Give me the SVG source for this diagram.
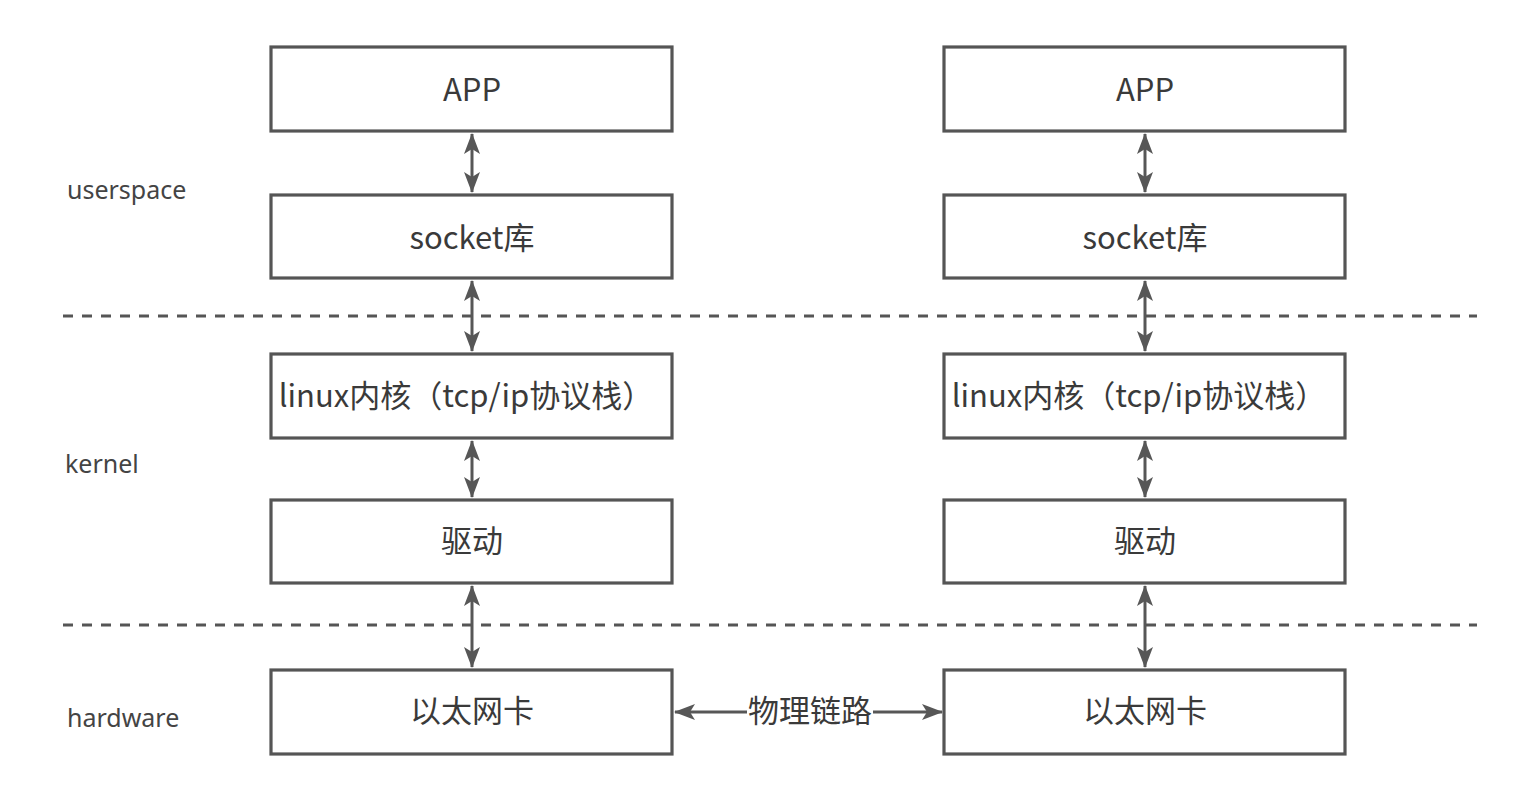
<svg xmlns="http://www.w3.org/2000/svg" width="1522" height="800" viewBox="0 0 1522 800">
  <defs>
    <style>
      .box { fill: #ffffff; stroke: #555555; stroke-width: 3.2; }
      .lbl { font-family: "Microsoft YaHei", "Noto Sans CJK SC", "Noto Sans", sans-serif; font-size: 31px; fill: #3a3a3a; text-anchor: middle; }
      .side { font-family: "Noto Sans", "Noto Sans CJK SC", sans-serif; font-size: 25px; fill: #444444; }
      .conn { stroke: #575757; stroke-width: 3; fill: none; marker-start: url(#arr); marker-end: url(#arr); }
      .dash { stroke: #555555; stroke-width: 3; stroke-dasharray: 10 9; fill: none; }
    </style>
    <marker id="arr" viewBox="0 0 21 16" refX="20" refY="8" markerWidth="21" markerHeight="16" markerUnits="userSpaceOnUse" orient="auto-start-reverse">
      <path d="M0,0 L21,8 L0,16 L5,8 Z" fill="#575757"/>
    </marker>
  </defs>
  <rect width="1522" height="800" fill="#ffffff"/>

  <g id="separators">
    <line class="dash" x1="63" y1="316" x2="1477" y2="316"/>
    <line class="dash" x1="63" y1="625" x2="1477" y2="625"/>
  </g>

  <g id="layer-labels">
    <text class="side" x="67" y="199">userspace</text>
    <text class="side" x="65" y="473">kernel</text>
    <text class="side" x="67" y="727">hardware</text>
  </g>

  <g id="connectors">
    <line class="conn" x1="472" y1="134" x2="472" y2="192"/>
    <line class="conn" x1="472" y1="281" x2="472" y2="351"/>
    <line class="conn" x1="472" y1="441" x2="472" y2="497"/>
    <line class="conn" x1="472" y1="586" x2="472" y2="667"/>
    <line class="conn" x1="1145" y1="134" x2="1145" y2="192"/>
    <line class="conn" x1="1145" y1="281" x2="1145" y2="351"/>
    <line class="conn" x1="1145" y1="441" x2="1145" y2="497"/>
    <line class="conn" x1="1145" y1="586" x2="1145" y2="667"/>
    <line class="conn" x1="675" y1="712" x2="942" y2="712"/>
    <rect x="747" y="694" width="126" height="34" fill="#ffffff"/>
    <text class="lbl" x="810" y="722">物理链路</text>
  </g>

  <g id="left-app">
    <rect class="box" x="271" y="47" width="401" height="84"/>
    <text class="lbl" x="472" y="101">APP</text>
  </g>
  <g id="left-socket">
    <rect class="box" x="271" y="195" width="401" height="83"/>
    <text class="lbl" x="472" y="249">socket库</text>
  </g>
  <g id="left-kernel">
    <rect class="box" x="271" y="354" width="401" height="84"/>
    <text class="lbl" x="466" y="407">linux内核（tcp/ip协议栈）</text>
  </g>
  <g id="left-driver">
    <rect class="box" x="271" y="500" width="401" height="83"/>
    <text class="lbl" x="472" y="552">驱动</text>
  </g>
  <g id="left-nic">
    <rect class="box" x="271" y="670" width="401" height="84"/>
    <text class="lbl" x="472" y="722">以太网卡</text>
  </g>

  <g id="right-app">
    <rect class="box" x="944" y="47" width="401" height="84"/>
    <text class="lbl" x="1145" y="101">APP</text>
  </g>
  <g id="right-socket">
    <rect class="box" x="944" y="195" width="401" height="83"/>
    <text class="lbl" x="1145" y="249">socket库</text>
  </g>
  <g id="right-kernel">
    <rect class="box" x="944" y="354" width="401" height="84"/>
    <text class="lbl" x="1139" y="407">linux内核（tcp/ip协议栈）</text>
  </g>
  <g id="right-driver">
    <rect class="box" x="944" y="500" width="401" height="83"/>
    <text class="lbl" x="1145" y="552">驱动</text>
  </g>
  <g id="right-nic">
    <rect class="box" x="944" y="670" width="401" height="84"/>
    <text class="lbl" x="1145" y="722">以太网卡</text>
  </g>
</svg>
